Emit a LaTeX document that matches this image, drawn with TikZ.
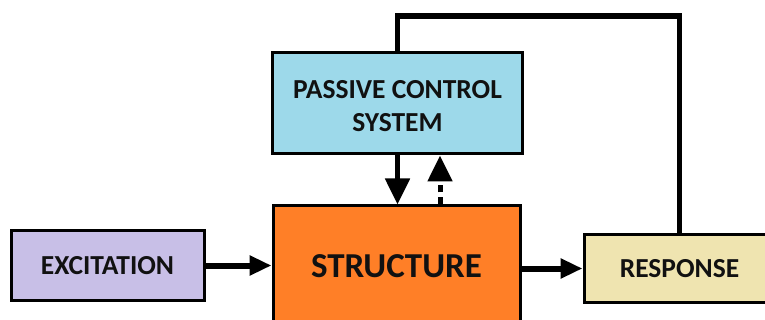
\documentclass[tikz,border=0pt]{standalone}
\usepackage{fontspec}
\setmainfont{Carlito}
\usetikzlibrary{arrows.meta}
\definecolor{passivefill}{HTML}{9DD9EA}
\definecolor{structfill}{HTML}{FF7F27}
\definecolor{excitefill}{HTML}{C8BFE7}
\definecolor{respfill}{HTML}{EFE4B0}
\definecolor{txt}{HTML}{111111}
\tikzset{
  labelfont/.style={text=txt, font=\bfseries\fontsize{27.5}{33}\selectfont, align=center},
  box/.style={draw=black, line width=3pt, rectangle, inner sep=0pt, labelfont},
  bigarrow/.style={line width=5pt, -{Triangle[length=26pt,width=24pt]}},
  sidearrow/.style={line width=6pt, -{Triangle[length=22pt,width=19pt]}},
  feedback/.style={line width=5.5pt, line join=miter},
}
\begin{document}
\begin{tikzpicture}[x=1pt,y=-1pt]
\useasboundingbox (0,0) rectangle (765,320);
\clip (0,0) rectangle (765,320);
\fill[white] (0,0) rectangle (765,320);
\node[box, fill=passivefill, minimum width=250pt, minimum height=101pt] (passive) at (397.5,103.5) {};
\node[labelfont, inner sep=0pt] (passivetext) at (397.5,106.5) {PASSIVE CONTROL\\SYSTEM};
\node[box, fill=structfill, minimum width=247pt, minimum height=120pt,
  font=\bfseries\fontsize{35}{40}\selectfont] (structure) at (396.5,266) {STRUCTURE};
\node[box, fill=excitefill, minimum width=193pt, minimum height=69pt] (excitation) at (107.5,265.5) {EXCITATION};
\node[box, fill=respfill, minimum width=191pt, minimum height=67pt] (response) at (679.5,268.5) {RESPONSE};
\coordinate (fbtop) at (500,16);
\coordinate (dashbot) at (440,0);
\draw[feedback] (response.north) |- (fbtop) -| (passive.north);
\draw[bigarrow] (passive.south) -- (passive.south |- structure.north);
\draw[bigarrow, dash pattern=on 7pt off 5pt] (dashbot |- structure.north) -- (dashbot |- passive.south);
\draw[sidearrow] (excitation.east) -- (excitation.east -| structure.west);
\draw[sidearrow] (structure.east |- response.west) -- (response.west);
\end{tikzpicture}
\end{document}
